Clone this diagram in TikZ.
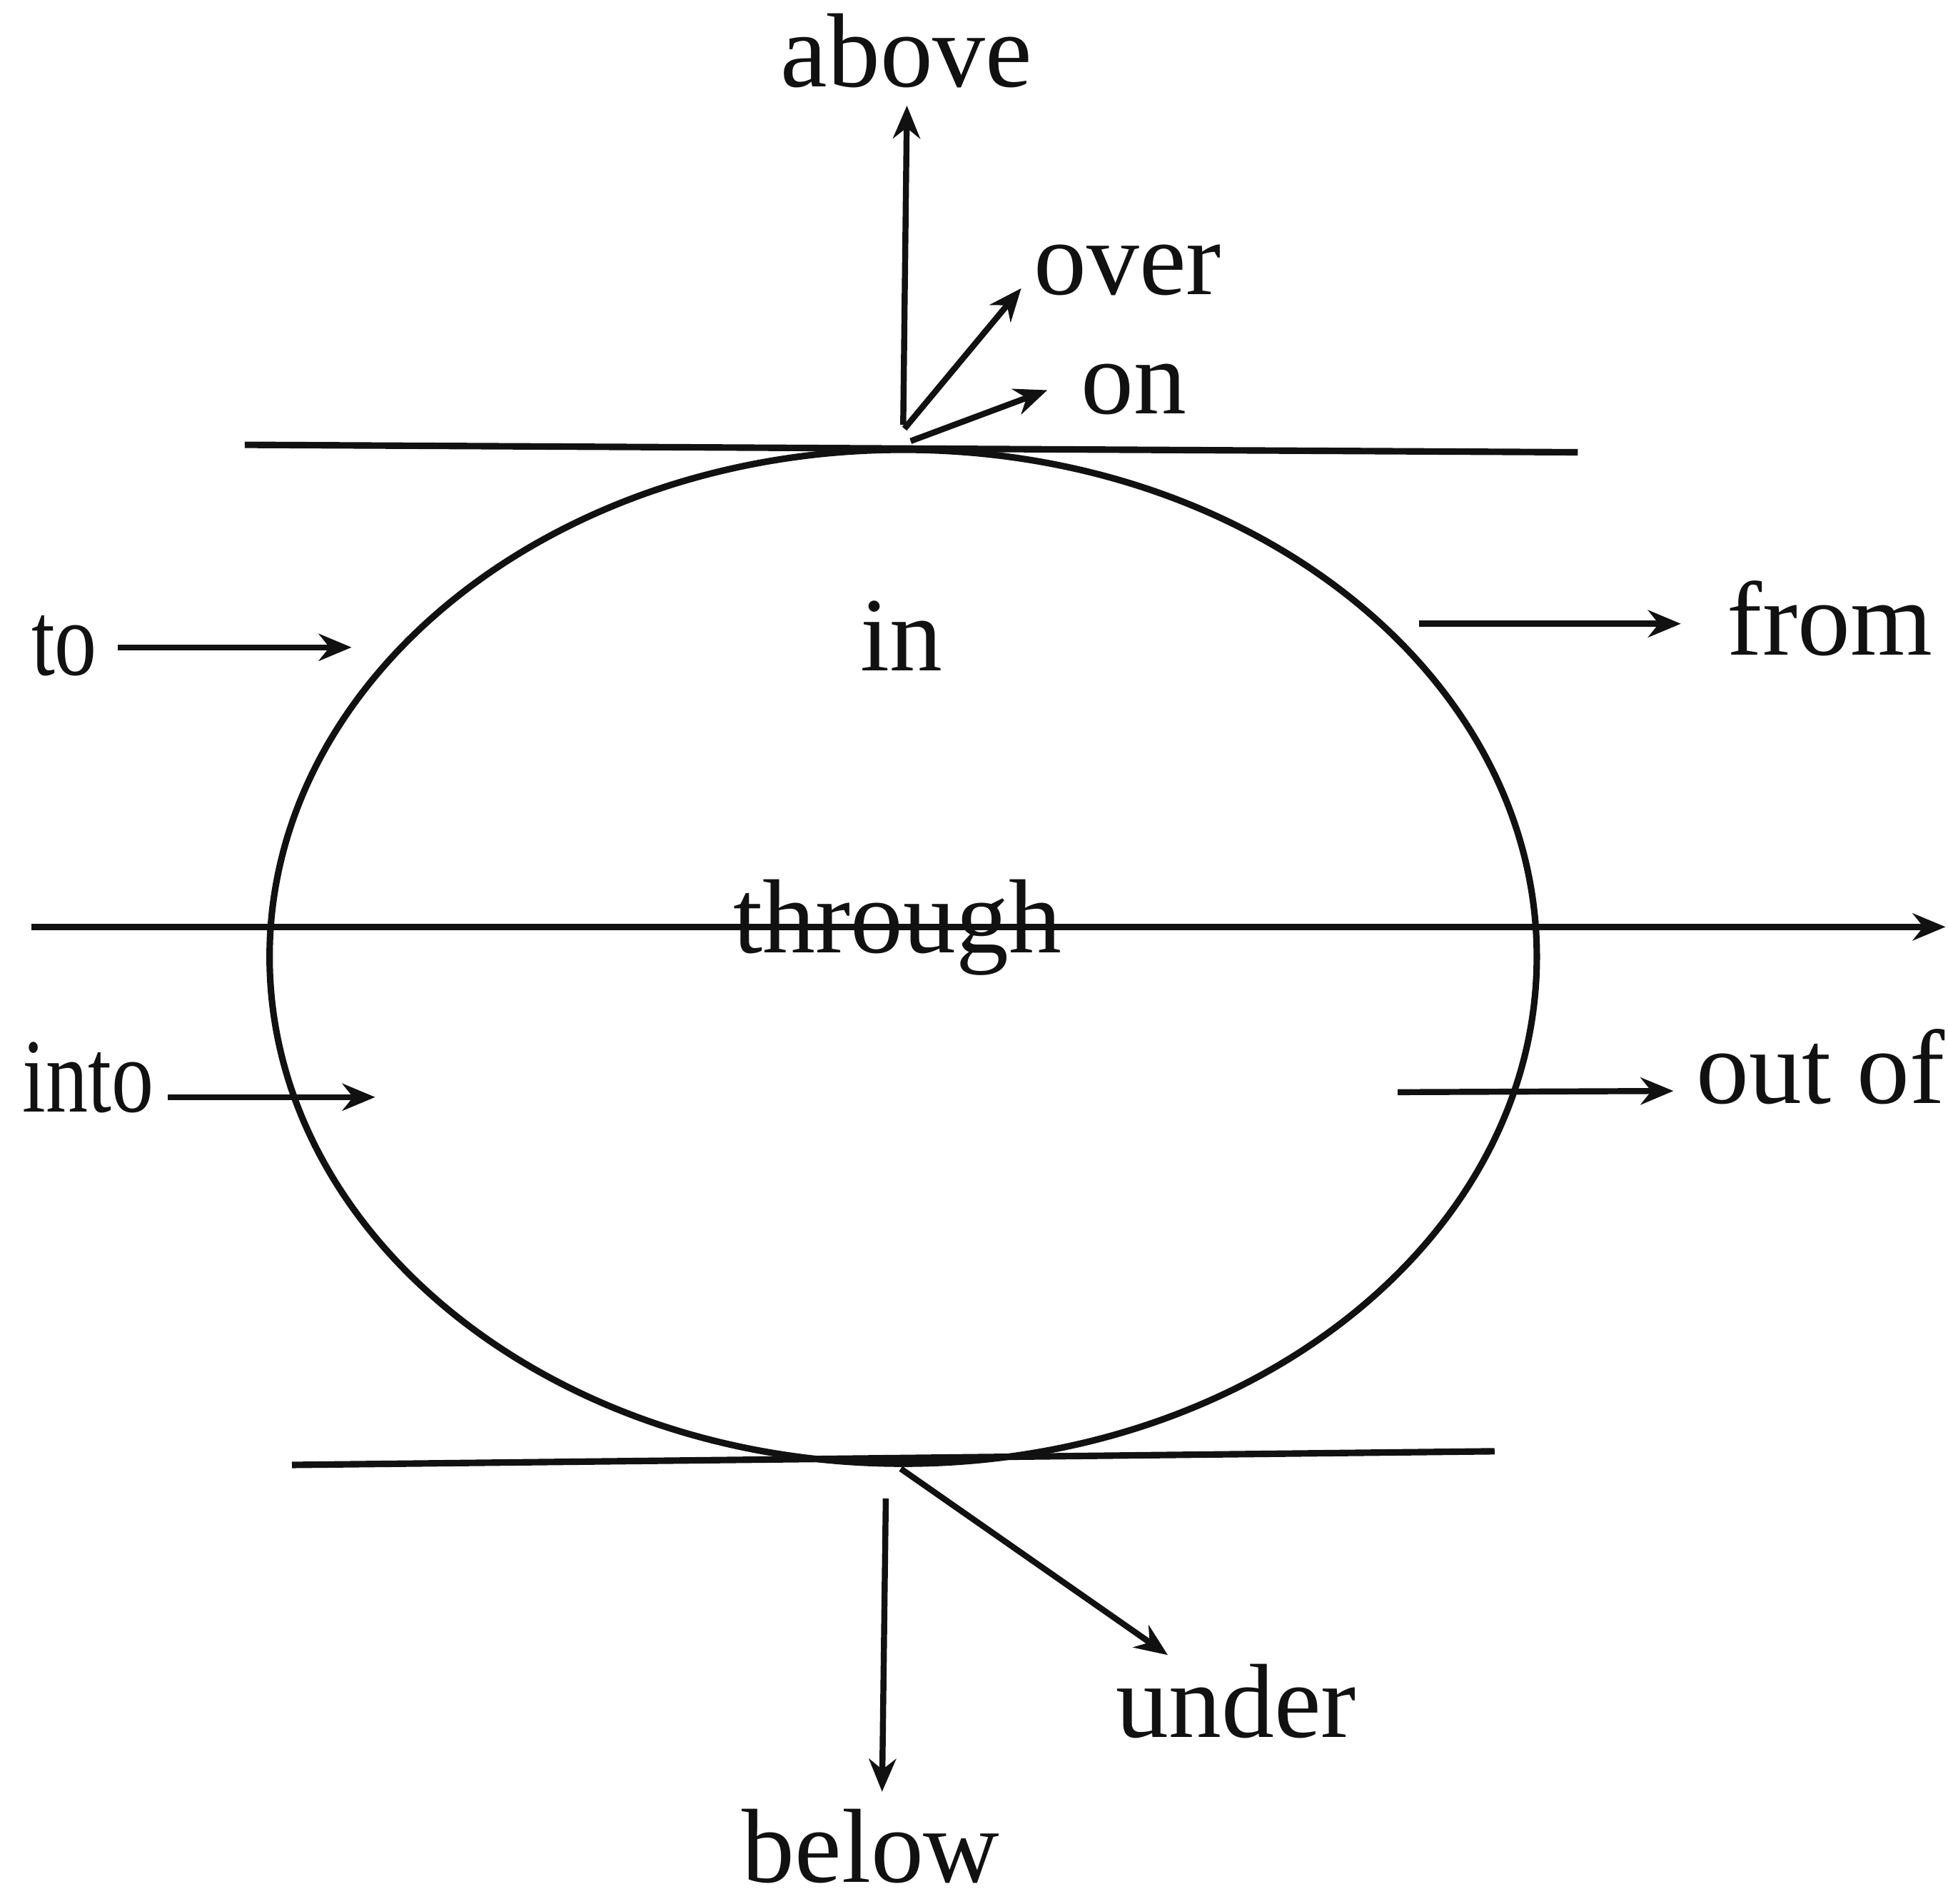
\documentclass[tikz,border=0pt]{standalone}
\usepackage{fontspec}
\setmainfont{Liberation Serif}
\usetikzlibrary{arrows.meta, positioning}
\definecolor{inkDark}{HTML}{111111}

\begin{document}
\begin{tikzpicture}[
    x=0.17404mm, y=-0.17404mm,
    word/.style={anchor=base west, inner sep=0pt, text=inkDark,
                 font=\fontsize{42}{50}\selectfont},
    narrow/.style={word, xscale=0.8, transform shape},
    edge/.style={draw=inkDark, line width=2.6pt},
    arr/.style={edge, line width=2.4pt, -{Stealth[length=4.6mm, width=3.8mm]}},
  ]
    \useasboundingbox (0,0) rectangle (1568,1532);

    % the round object and its two flat planes
    \draw[edge] (727,770) ellipse [x radius=510, y radius=408];
    \coordinate (topL) at (197,358);
    \coordinate (topR) at (1270,364);
    \coordinate (botL) at (235,1179);
    \coordinate (botR) at (1203,1168);
    \draw[edge] (topL) -- (topR);
    \draw[edge] (botL) -- (botR);

    % labels
    \node[word] (above)   at (628,70)   {above};
    \node[word] (over)    at (832,237)  {over};
    \node[word] (on)      at (870,333)  {on};
    \node[word] (in)      at (692,540)  {in};
    \node[narrow] (to)    at (25,543)   {to};
    \node[word] (from)    at (1390,527) {from};
    \node[word] (through) at (590,767)  {through};
    \node[narrow] (into)  at (18,895)   {into};
    \node[word] (outof)   at (1365,888) {out of};
    \node[word] (under)   at (898,1398) {under};
    \node[word] (below)   at (597,1515) {below};

    % arrows
    \coordinate (aboveS) at (727,342);  \coordinate (aboveE) at (730,85);
    \coordinate (overS)  at (728,345);  \coordinate (overE)  at (822,232);
    \coordinate (onS)    at (733,355);  \coordinate (onE)    at (843,314);
    \coordinate (toS)    at (95,521);   \coordinate (toE)    at (283,521);
    \coordinate (fromS)  at (1142,502); \coordinate (fromE)  at (1353,502);
    \coordinate (intoS)  at (135,883);  \coordinate (intoE)  at (302,883);
    \coordinate (outS)   at (1125,879); \coordinate (outE)   at (1347,878);
    \coordinate (belowS) at (713,1206); \coordinate (belowE) at (710,1442);
    \coordinate (underS) at (725,1182); \coordinate (underE) at (940,1332);
    \coordinate (thruS)  at (25,746);   \coordinate (thruE)  at (1566,746);

    \draw[arr] (aboveS) -- (aboveE);
    \draw[arr] (overS) -- (overE);
    \draw[arr] (onS) -- (onE);
    \draw[arr] (toS) -- (toE);
    \draw[arr] (fromS) -- (fromE);
    \draw[arr] (intoS) -- (intoE);
    \draw[arr] (outS) -- (outE);
    \draw[arr] (belowS) -- (belowE);
    \draw[arr] (underS) -- (underE);
    \draw[arr, line width=2.6pt] (thruS) -- (thruE);
  \end{tikzpicture}
\end{document}
